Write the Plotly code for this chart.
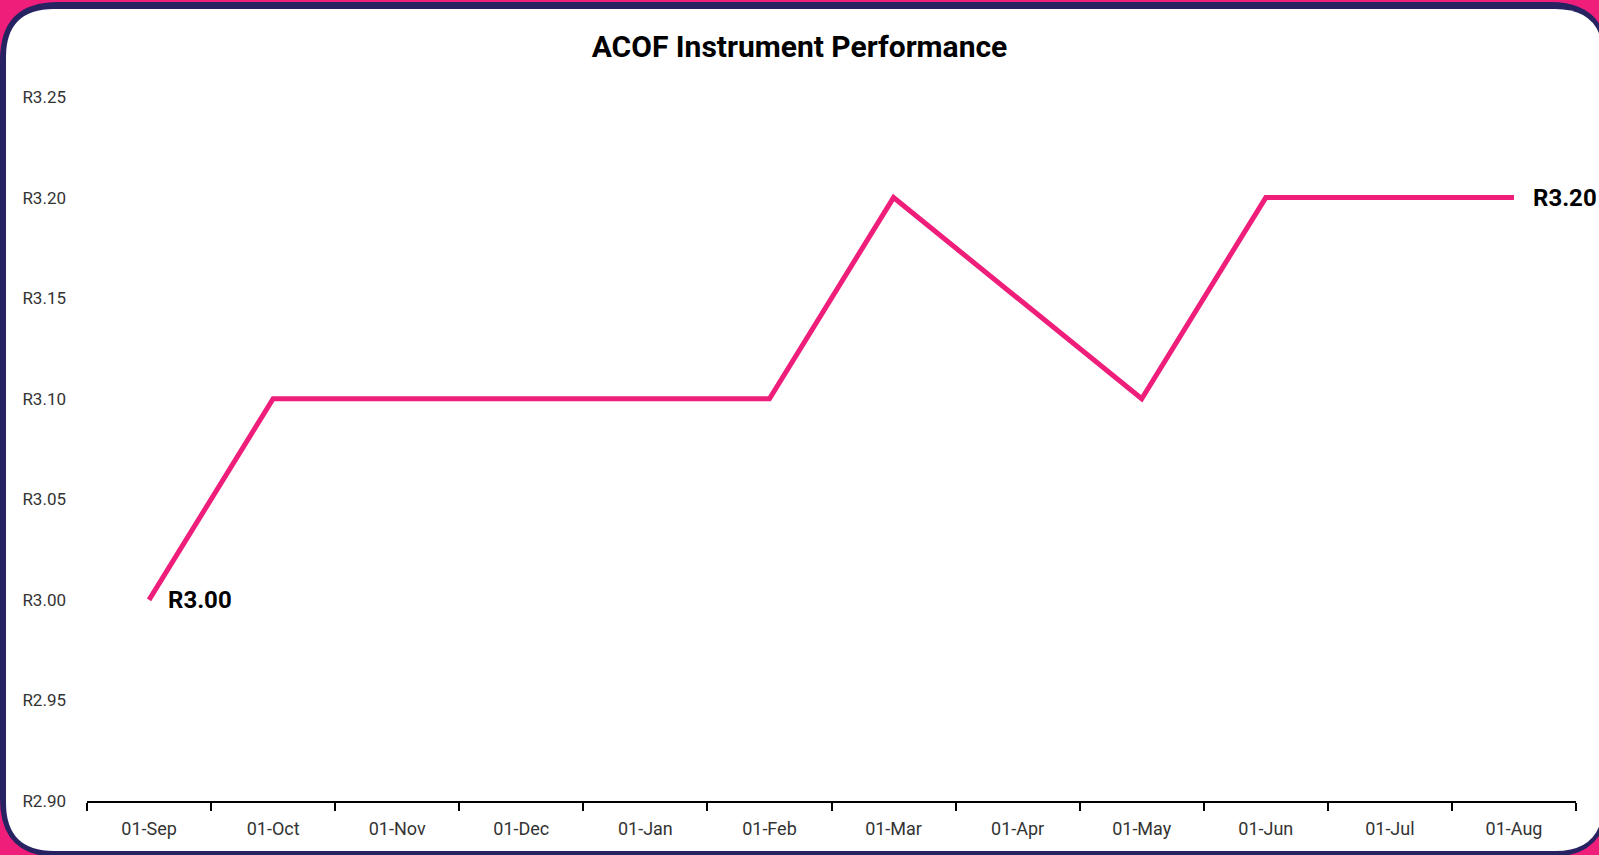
import plotly.graph_objects as go

months = ["01-Sep", "01-Oct", "01-Nov", "01-Dec", "01-Jan", "01-Feb",
          "01-Mar", "01-Apr", "01-May", "01-Jun", "01-Jul", "01-Aug"]
prices = [3.00, 3.10, 3.10, 3.10, 3.10, 3.10, 3.20, 3.15, 3.10, 3.20, 3.20, 3.20]
y_ticks = [2.90, 2.95, 3.00, 3.05, 3.10, 3.15, 3.20, 3.25]

W, H = 1599, 855
ML, MR, MT, MB = 87, 23, 97, 54

PINK = "#EE1E7A"
NAVY = "#272262"
FONT = "Roboto, sans-serif"


def px_to_paper(x, y):
    # convert full-figure pixel positions into paper coords (plot area based)
    pw = W - ML - MR
    ph = H - MT - MB
    return (x - ML) / pw, 1 - (y - MT) / ph


def rounded_rect(x0, y0, x1, y1, r):
    a0, b0 = px_to_paper(x0, y0)
    a1, b1 = px_to_paper(x1, y1)
    rx = r / (W - ML - MR)
    ry = r / (H - MT - MB)
    return (f"M {a0 + rx},{b0} L {a1 - rx},{b0} Q {a1},{b0} {a1},{b0 - ry} "
            f"L {a1},{b1 + ry} Q {a1},{b1} {a1 - rx},{b1} "
            f"L {a0 + rx},{b1} Q {a0},{b1} {a0},{b1 + ry} "
            f"L {a0},{b0 - ry} Q {a0},{b0} {a0 + rx},{b0} Z")


fig = go.Figure(
    go.Scatter(
        x=months,
        y=prices,
        mode="lines",
        line=dict(color=PINK, width=5),
        hoverinfo="x+y",
    )
)

# end point value labels
for i in (0, len(prices) - 1):
    fig.add_annotation(
        x=months[i],
        y=prices[i],
        text=f"<b>R{prices[i]:.2f}</b>",
        showarrow=False,
        xanchor="left",
        yanchor="middle",
        xshift=17,
        font=dict(family="Roboto", size=24, color="black"),
    )

fig.update_layout(
    width=W,
    height=H,
    margin=dict(l=ML, r=MR, t=MT, b=MB),
    paper_bgcolor=PINK,
    plot_bgcolor="rgba(0,0,0,0)",
    showlegend=False,
    title=dict(
        text="<b>ACOF Instrument Performance</b>",
        x=0.5,
        xref="container",
        y=1 - 46 / H,
        yanchor="middle",
        font=dict(family="Roboto", size=30, color="black"),
    ),
    shapes=[
        dict(type="path", path=rounded_rect(0, 2, 1608, 857, 58),
             xref="paper", yref="paper", fillcolor=NAVY, line_width=0, layer="below"),
        dict(type="path", path=rounded_rect(6, 9, 1603, 851, 48),
             xref="paper", yref="paper", fillcolor="white", line_width=0, layer="below"),
    ],
)

fig.update_xaxes(
    type="category",
    range=[-0.5, len(months) - 0.5],
    tickson="boundaries",
    ticks="outside",
    ticklen=8,
    tickwidth=2,
    tickcolor="black",
    showline=True,
    linecolor="black",
    linewidth=2,
    showgrid=False,
    ticklabelstandoff=10,
    tickfont=dict(family=FONT, size=18, color="#333333"),
)

fig.update_yaxes(
    range=[2.90, 3.25],
    tickvals=y_ticks,
    ticktext=[f"R{v:.2f}" for v in y_ticks],
    showgrid=False,
    zeroline=False,
    showline=False,
    ticklabelstandoff=20,
    tickfont=dict(family=FONT, size=17, color="#333333"),
)

fig.write_html(
    "out.html",
    config={"displayModeBar": False},
    post_script="document.body.style.margin='0';",
)
